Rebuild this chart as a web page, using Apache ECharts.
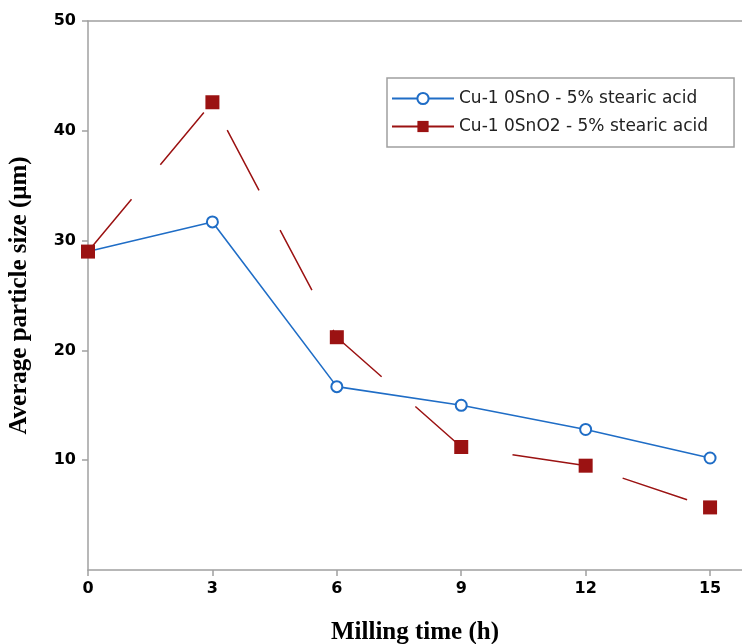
<!DOCTYPE html>
<html>
<head>
<meta charset="utf-8">
<script src="https://cdn.jsdelivr.net/npm/echarts@6/dist/echarts.min.js"></script>
<style>html,body{margin:0;padding:0;background:#fff;}#c{width:742px;height:644px;}</style>
</head>
<body>
<div id="c"></div>
<script>
const millingTime = [0, 3, 6, 9, 12, 15];
const snoSizes = [29.0, 31.7, 16.7, 15.0, 12.8, 10.2];
const sno2Sizes = [29.0, 42.6, 21.2, 11.2, 9.5, 5.7];
const seriesNames = ['Cu-1 0SnO - 5% stearic acid', 'Cu-1 0SnO2 - 5% stearic acid'];
const xTicks = [0, 3, 6, 9, 12, 15];
const yTicks = [10, 20, 30, 40, 50];

const pair = (xs, ys) => xs.map((x, i) => [x, ys[i]]);
const chart = echarts.init(document.getElementById('c'));
const axisGray = '#a0a0a0';
chart.setOption({
  animation: false,
  backgroundColor: '#fff',
  grid: {left: 88, right: 0, top: 21, bottom: 74, containLabel: false, outerBoundsMode: 'none'},
  legend: {
    orient: 'vertical', left: 387, top: 78,
    padding: [12, 26, 12, 4],
    borderColor: '#a0a0a0', borderWidth: 1.5,
    itemWidth: 62, itemHeight: 14, itemGap: 11,
    textStyle: {fontFamily: 'DejaVu Sans', fontSize: 17, color: '#222'},
    data: seriesNames
  },
  xAxis: [{
    type: 'value', min: 0, max: 15.77, interval: 3,
    axisLine: {lineStyle: {color: axisGray, width: 1.5}},
    axisTick: {show: true, length: 6, lineStyle: {color: axisGray, width: 1.5},
      customValues: xTicks},
    splitLine: {show: false},
    axisLabel: {fontFamily: 'DejaVu Sans', fontWeight: 'bold', fontSize: 16, color: '#000', margin: 11,
      customValues: xTicks},
    name: 'Milling time (h)', nameLocation: 'middle', nameGap: 50,
    nameTextStyle: {fontFamily: 'Liberation Serif', fontWeight: 'bold', fontSize: 25, color: '#000'}
  }, {
    type: 'value', position: 'top', min: 0, max: 15.77,
    axisLine: {show: true, lineStyle: {color: axisGray, width: 1.5}},
    axisTick: {show: false}, axisLabel: {show: false}, splitLine: {show: false}
  }],
  yAxis: {
    type: 'value', min: 0, max: 50, interval: 10,
    axisLine: {show: true, lineStyle: {color: axisGray, width: 1.5}},
    axisTick: {show: true, length: 6, lineStyle: {color: axisGray, width: 1.5}, customValues: yTicks},
    splitLine: {show: false},
    axisLabel: {fontFamily: 'DejaVu Sans', fontWeight: 'bold', fontSize: 16, color: '#000', margin: 12,
      customValues: yTicks},
    name: 'Average particle size (\u03bcm)', nameLocation: 'middle', nameGap: 56,
    nameTextStyle: {fontFamily: 'Liberation Serif', fontWeight: 'bold', fontSize: 25, color: '#000'}
  },
  series: [{
    name: seriesNames[0], type: 'line', data: pair(millingTime, snoSizes),
    symbol: 'emptyCircle', symbolSize: 11, z: 2,
    lineStyle: {color: '#1f6dc6', width: 1.6},
    itemStyle: {color: '#1f6dc6', borderWidth: 1.6}
  }, {
    name: seriesNames[1], type: 'line', data: pair(millingTime, sno2Sizes),
    symbol: 'rect', symbolSize: 14, z: 3,
    lineStyle: {color: '#9b1212', width: 1.5, type: [68, 45]},
    itemStyle: {color: '#9b1212'}
  }]
});
</script>
</body>
</html>
